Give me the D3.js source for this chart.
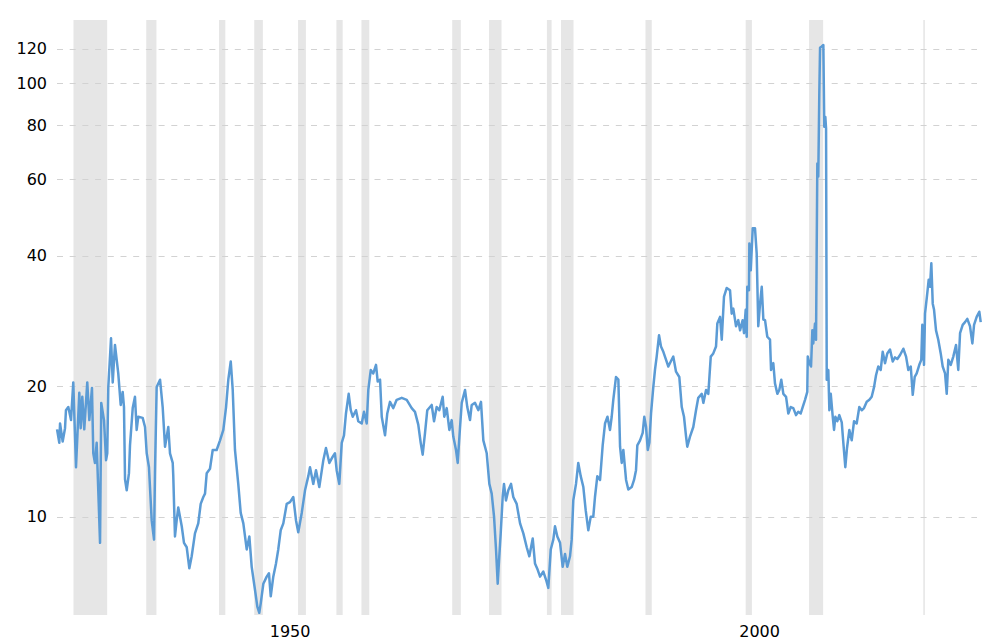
<!DOCTYPE html>
<html>
<head>
<meta charset="utf-8">
<script src="https://cdn.jsdelivr.net/npm/d3@7"></script>
<style>
  html, body { margin: 0; padding: 0; background: #fff; }
  svg { display: block; }
  text { font-family: "DejaVu Sans", Verdana, sans-serif; }
</style>
</head>
<body>
<svg id="chart" width="992" height="641"></svg>
<script>
// ---- Data (S&P 500 P/E ratio) ----
const peYears = [
  1927.83,1928.07,1928.15,1928.43,1928.68,1928.78,1929.03,1929.32,1929.56,1929.85,
  1930.20,1930.35,1930.52,1930.73,1931.05,1931.27,1931.55,1931.69,1931.87,1932.05,
  1932.41,1932.54,1932.83,1933.05,1933.18,1933.29,1933.58,1933.76,1934.00,1934.35,
  1934.61,1934.82,1934.96,1935.07,1935.25,1935.49,1935.60,1935.89,1936.13,1936.31,
  1936.48,1936.95,1937.20,1937.38,1937.62,1937.91,1938.16,1938.26,1938.44,1938.80,
  1939.08,1939.33,1939.68,1939.86,1940.15,1940.21,1940.39,1940.57,1940.74,1941.11,
  1941.35,1941.64,1941.92,1942.17,1942.52,1942.87,1943.13,1943.41,1943.59,1943.77,
  1944.12,1944.41,1944.83,1945.19,1945.54,1945.83,1946.07,1946.33,1946.54,1946.78,
  1947.13,1947.39,1947.67,1948.03,1948.31,1948.56,1948.91,1949.16,1949.37,1949.52,
  1949.80,1950.16,1950.40,1950.59,1950.86,1951.15,1951.39,1951.65,1951.93,1952.29,
  1952.64,1952.99,1953.28,1953.52,1953.89,1954.24,1954.59,1954.77,1955.12,1955.41,
  1955.76,1956.19,1956.47,1956.83,1957.19,1957.43,1957.61,1957.89,1958.15,1958.39,
  1958.60,1958.89,1959.11,1959.32,1959.67,1959.91,1960.28,1960.52,1960.81,1960.98,
  1961.24,1961.51,1961.80,1961.98,1962.23,1962.41,1962.76,1963.00,1963.29,1963.64,
  1964.00,1964.54,1965.07,1965.60,1965.95,1966.30,1966.56,1966.77,1967.02,1967.26,
  1967.73,1967.98,1968.26,1968.54,1968.90,1969.07,1969.33,1969.61,1969.86,1970.03,
  1970.32,1970.50,1970.75,1970.93,1971.28,1971.52,1971.81,1971.99,1972.34,1972.70,
  1972.98,1973.23,1973.59,1973.87,1974.12,1974.37,1974.58,1974.76,1974.93,1975.08,
  1975.29,1975.43,1975.64,1975.89,1976.18,1976.42,1976.78,1977.14,1977.49,1977.85,
  1978.13,1978.49,1978.73,1979.02,1979.27,1979.62,1979.91,1980.15,1980.41,1980.68,
  1980.86,1981.11,1981.40,1981.68,1981.93,1982.17,1982.46,1982.64,1982.81,1983.10,
  1983.34,1983.60,1983.88,1984.13,1984.41,1984.67,1984.94,1985.12,1985.37,1985.66,
  1985.94,1986.19,1986.45,1986.72,1986.90,1987.07,1987.36,1987.61,1987.79,1987.97,
  1988.14,1988.43,1988.67,1989.03,1989.28,1989.49,1989.63,1989.92,1990.20,1990.37,
  1990.56,1990.74,1990.91,1991.09,1991.33,1991.51,1991.69,1991.94,1992.15,1992.40,
  1992.69,1992.93,1993.19,1993.46,1993.75,1994.10,1994.36,1994.60,1994.82,1994.95,
  1995.24,1995.59,1995.88,1996.12,1996.49,1996.66,1996.95,1997.19,1997.45,1997.72,
  1998.01,1998.15,1998.44,1998.62,1998.86,1999.15,1999.50,1999.68,1999.85,2000.14,
  2000.38,2000.57,2000.85,2000.99,2001.17,2001.28,2001.34,2001.52,2001.56,2001.71,
  2001.92,2002.16,2002.34,2002.51,2002.70,2002.88,2003.05,2003.23,2003.47,2003.76,
  2003.87,2004.11,2004.29,2004.54,2004.75,2004.96,2005.18,2005.47,2005.71,2005.97,
  2006.24,2006.53,2006.77,2007.03,2007.24,2007.49,2007.73,2007.78,2007.95,2008.13,
  2008.27,2008.37,2008.55,2008.66,2008.80,2008.90,2009.01,2009.09,2009.27,2009.44,
  2009.54,2009.65,2009.73,2009.80,2009.97,2010.08,2010.23,2010.44,2010.58,2010.72,
  2010.93,2011.14,2011.40,2011.57,2011.78,2011.96,2012.21,2012.46,2012.71,2012.99,
  2013.27,2013.53,2013.77,2014.06,2014.34,2014.59,2014.84,2015.05,2015.29,2015.55,
  2015.76,2016.01,2016.25,2016.54,2016.83,2017.07,2017.32,2017.61,2017.96,2018.25,
  2018.49,2018.75,2018.96,2019.17,2019.38,2019.66,2019.87,2019.98,2020.16,2020.27,
  2020.51,2020.66,2020.80,2020.94,2021.09,2021.23,2021.44,2021.68,2021.94,2022.15,
  2022.40,2022.58,2022.75,2023.01,2023.28,2023.57,2023.81,2024.00,2024.28,2024.53,
  2024.77,2025.06,2025.31,2025.49,2025.77,2026.05,2026.20
];
const peValues = [
  15.9,14.8,16.4,14.9,16.0,17.6,17.9,16.7,20.4,13.0,
  19.3,16.0,18.9,15.9,20.4,16.7,19.8,14.0,13.3,14.8,
  8.7,18.3,16.7,13.5,14.0,19.9,25.8,20.4,24.9,21.4,
  18.1,19.4,17.9,12.2,11.5,12.6,14.6,17.8,18.9,15.85,
  17.0,16.9,16.1,14.0,13.0,9.8,8.85,12.6,19.9,20.7,
  17.9,14.5,16.1,14.0,13.3,12.4,9.0,9.8,10.5,9.5,
  8.7,8.5,7.6,8.1,9.15,9.65,10.7,11.1,11.3,12.6,
  12.9,14.25,14.25,15.0,15.85,17.9,20.7,22.8,19.6,14.25,
  11.9,10.2,9.65,8.4,9.0,7.66,6.78,6.2,6.0,6.3,
  7.0,7.27,7.4,6.55,7.27,7.8,8.4,9.3,9.65,10.7,
  10.8,11.1,9.8,9.2,10.2,11.5,12.4,13.0,11.9,12.8,
  11.7,13.5,14.4,13.3,13.75,14.0,12.8,11.9,14.8,15.4,
  17.3,19.2,17.6,17.0,17.6,16.6,16.4,17.45,16.4,19.6,
  21.8,21.4,22.4,20.5,20.7,17.0,15.4,17.3,18.4,17.8,
  18.6,18.8,18.6,17.8,17.45,16.3,14.8,13.9,15.6,17.6,
  18.1,16.6,17.9,17.6,18.9,17.0,17.8,15.85,16.7,15.3,
  14.25,13.3,16.1,18.3,19.6,17.9,16.7,18.1,18.3,17.6,
  18.4,15.0,14.0,11.9,11.3,10.0,8.4,7.0,8.1,9.15,
  11.1,11.9,10.9,11.5,11.9,11.1,10.7,9.65,9.15,8.5,
  8.1,8.9,7.8,7.54,7.27,7.47,7.15,6.85,8.4,8.85,
  9.5,9.0,8.7,7.66,8.2,7.66,8.1,8.85,10.9,11.9,
  13.3,12.4,11.7,10.35,9.3,10.0,10.0,11.1,12.4,12.15,
  14.6,16.4,17.0,15.85,17.0,18.6,21.0,20.7,14.5,13.3,
  14.25,12.15,11.55,11.7,12.15,12.8,14.6,15.0,15.6,17.0,
  16.1,14.25,14.8,17.3,19.9,21.8,23.4,26.2,24.7,24.0,
  23.0,22.2,22.8,23.4,21.6,21.0,17.9,17.0,15.3,14.5,
  15.3,16.1,17.6,18.8,19.2,18.3,19.6,19.2,23.4,23.8,
  24.7,27.9,28.9,25.6,32.2,33.7,33.3,29.4,30.2,27.5,
  28.4,26.9,28.4,26.5,30.0,26.0,33.9,33.3,42.7,37.0,
  46.3,46.3,40.5,27.5,31.0,33.9,28.5,28.4,26.0,25.6,
  21.8,22.6,20.3,19.2,19.6,20.7,19.2,18.9,17.3,17.9,
  17.8,17.15,17.45,17.3,17.9,18.6,19.4,23.4,22.6,22.2,
  26.9,25.1,27.9,25.6,65.3,60.9,94.8,120.7,121.6,122.5,
  79.3,83.6,78.6,20.7,21.8,17.6,19.2,17.0,15.85,17.0,
  16.6,17.15,16.5,14.8,13.0,14.4,15.85,15.0,16.6,16.4,
  17.9,17.6,17.8,18.4,18.6,18.9,19.9,21.2,22.2,21.8,
  24.0,22.6,23.8,24.3,22.8,23.3,23.1,23.6,24.4,23.4,
  21.8,22.2,19.1,21.0,21.4,22.4,23.0,27.7,22.4,29.4,
  32.8,35.2,33.9,38.4,31.0,30.0,26.9,25.6,23.8,22.2,
  21.4,19.2,23.0,22.4,23.4,24.9,21.8,26.5,27.7,28.1,
  28.6,27.5,25.1,27.7,28.9,29.7,28.1
];
// NBER recessions (decimal years)
const recessionStarts = [1929.583,1937.333,1945.083,1948.833,1953.5,1957.583,1960.25,1969.917,1973.833,1980.0,1981.5,1990.5,2001.167,2007.917,2020.083];
const recessionEnds   = [1933.167,1938.417,1945.75,1949.75,1954.333,1958.25,1961.083,1970.833,1975.167,1980.5,1982.833,1991.167,2001.833,2009.417,2020.25];
const yTickValues = [10, 20, 40, 60, 80, 100, 120];
const xTickValues = [1950, 2000];

// ---- Chart ----
const svg = d3.select("#chart");
const plot = { left: 57, right: 981, top: 20, bottom: 615 };

const x = d3.scaleLinear().domain([1927.826, 2026.23]).range([plot.left, plot.right]);
const y = d3.scaleLog().domain([5.93, 139.9]).range([plot.bottom, plot.top]);

const recessions = recessionStarts.map((s, i) => ({ s, e: recessionEnds[i] }));
svg.append("g").selectAll("rect").data(recessions).join("rect")
  .attr("x", d => x(d.s))
  .attr("width", d => Math.max(1.5, x(d.e) - x(d.s)))
  .attr("y", plot.top)
  .attr("height", plot.bottom - plot.top)
  .attr("fill", "#e6e6e6");

// gridlines
svg.append("g").selectAll("line").data(yTickValues).join("line")
  .attr("x1", plot.left).attr("x2", 977)
  .attr("y1", d => Math.round(y(d)) + 0.5).attr("y2", d => Math.round(y(d)) + 0.5)
  .attr("stroke", "#d2d2d2").attr("stroke-width", 1)
  .attr("stroke-dasharray", "6,6.7");

// y labels
svg.append("g").selectAll("text").data(yTickValues).join("text")
  .attr("x", 47).attr("y", d => y(d))
  .attr("text-anchor", "end").attr("dominant-baseline", "central")
  .attr("font-size", "16px").attr("fill", "#000")
  .text(d => d);

// x labels
svg.append("g").selectAll("text").data(xTickValues).join("text")
  .attr("x", d => x(d) + 4.5).attr("y", 637)
  .attr("text-anchor", "start")
  .attr("font-size", "16px").attr("fill", "#000")
  .text(d => d);

// line
const series = peYears.map((yr, i) => ({ yr, v: peValues[i] }));
const line = d3.line().x(d => x(d.yr)).y(d => y(d.v));
svg.append("path").datum(series)
  .attr("d", line)
  .attr("fill", "none")
  .attr("stroke", "#5b9bd5")
  .attr("stroke-width", 2.5)
  .attr("stroke-linejoin", "round");
</script>
</body>
</html>
